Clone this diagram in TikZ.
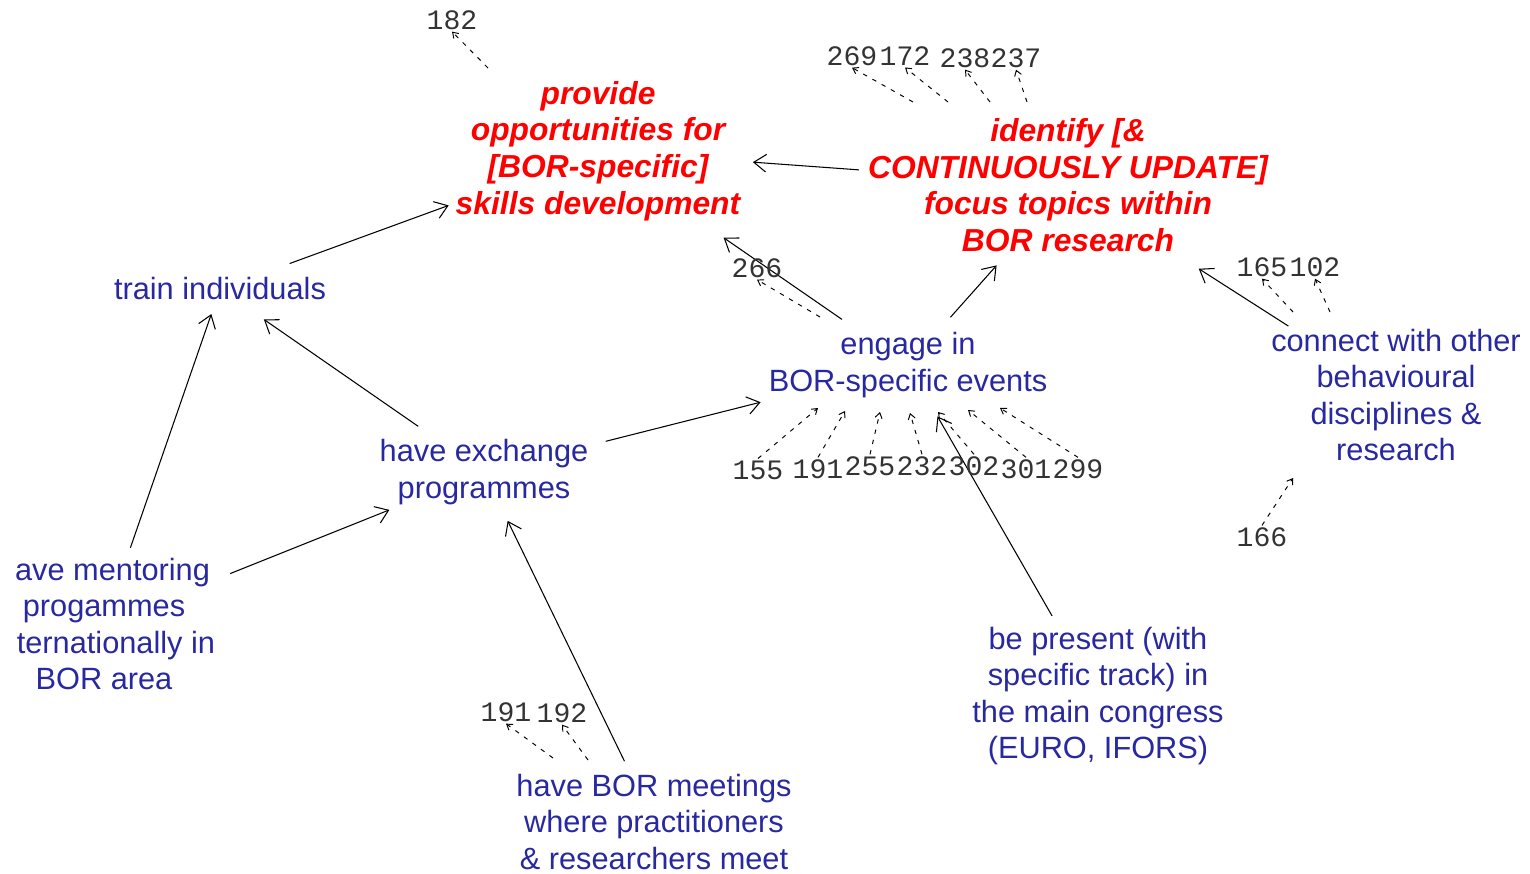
\documentclass[tikz,border=0pt]{standalone}
\usepackage{fontspec}
\setmainfont{Liberation Sans}
\newfontfamily\refnumfont{Liberation Mono}
\usetikzlibrary{arrows.meta}
\definecolor{conceptblue}{RGB}{40,40,160}
\begin{document}
\begin{tikzpicture}[x=0.02cm,y=-0.02cm,
        concept/.style={align=center,text=conceptblue,inner sep=1pt,font=\fontsize{17.5}{20.7}\selectfont},
        goal/.style={align=center,text=red,inner sep=1pt,font=\fontsize{18.1}{20.8}\selectfont\bfseries\itshape},
        refnum/.style={inner sep=1pt,text=black!80,font=\refnumfont\fontsize{16}{16}\selectfont},
        link/.style={-{Straight Barb[length=7pt,width=10pt]},line width=0.6pt},
        reflink/.style={-{Straight Barb[length=3pt,width=4pt]},dash pattern=on 2.5pt off 3.5pt,line width=0.55pt}]
    \useasboundingbox (0,0) rectangle (1530,874);
    \node[goal] (provide) at (598,151) {provide\\opportunities for\\{}[BOR-specific]\\skills development};
    \node[goal] (identify) at (1068,185) {identify [\&\\CONTINUOUSLY UPDATE]\\focus topics within\\BOR research};
    \node[concept] (train) at (220,289) {train individuals};
    \node[concept] (engage) at (908,365) {engage in\\BOR-specific events};
    \node[concept] (connect) at (1396,395) {connect with other\\behavioural\\disciplines \&\\research};
    \node[concept] (exchange) at (484,472) {have exchange\\programmes};
    \begin{scope}
        \clip (15,0) rectangle (1530,874);
        \node[concept] (mentoring) at (104,624) {have mentoring\\progammes\\internationally in\\BOR area};
    \end{scope}
    \node[concept] (meetings) at (654,822) {have BOR meetings\\where practitioners\\\& researchers meet};
    \node[concept] (present) at (1098,696) {be present (with\\specific track) in\\the main congress\\(EURO, IFORS)};

    \draw[link,shorten <=20pt,shorten >=3pt] (train) -- (provide);
    \draw[link,shorten <=4pt,shorten >=6pt] (identify) -- (provide);
    \draw[link,shorten <=11pt,shorten >=15pt] (engage) -- (provide);
    \draw[link,shorten <=10pt,shorten >=9pt] (engage) -- (identify);
    \draw[link,shorten <=1pt,shorten >=16pt] (connect) -- (identify);
    \draw[link,shorten <=11pt,shorten >=17pt] (exchange) -- (train);
    \draw[link,shorten <=5pt,shorten >=7pt] (mentoring) -- (train);
    \draw[link,shorten <=8pt,shorten >=5pt] (mentoring) -- (exchange);
    \draw[link,shorten <=9pt,shorten >=6pt] (exchange) -- (engage);
    \draw[link,shorten <=7pt,shorten >=9pt] (meetings) -- (exchange);
    \draw[link,shorten <=6pt,shorten >=11pt] (present) -- (engage);

    \node[refnum] (r182) at (452,20) {182};
    \node[refnum] (r269) at (852,56) {269};
    \node[refnum] (r172) at (905,56) {172};
    \node[refnum] (r238) at (965,58) {238};
    \node[refnum] (r237) at (1016,58) {237};
    \node[refnum] (r266) at (757,268) {266};
    \node[refnum] (r165) at (1262,267) {165};
    \node[refnum] (r102) at (1315,267) {102};
    \node[refnum] (r166) at (1262,537) {166};
    \node[refnum] (r155) at (758,470) {155};
    \node[refnum] (r191) at (818,469) {191};
    \node[refnum] (r255) at (870,466) {255};
    \node[refnum] (r232) at (922,466) {232};
    \node[refnum] (r302) at (974,466) {302};
    \node[refnum] (r301) at (1026,469) {301};
    \node[refnum] (r299) at (1078,469) {299};
    \node[refnum] (r191m) at (506,712) {191};
    \node[refnum] (r192) at (562,713) {192};

    \coordinate (t182) at (488,68);
    \coordinate (t269) at (913,102);
    \coordinate (t172) at (948,102);
    \coordinate (t238) at (990,102);
    \coordinate (t237) at (1027,102);
    \coordinate (t266) at (820,317);
    \coordinate (t165) at (1293,312);
    \coordinate (t102) at (1330,312);
    \coordinate (t191m) at (553,758);
    \coordinate (t192) at (588,760);
    \coordinate (h155) at (818,408);
    \coordinate (h191) at (845,411);
    \coordinate (h255) at (880,412);
    \coordinate (h232) at (910,413);
    \coordinate (h302) at (938,412);
    \coordinate (h301) at (968,410);
    \coordinate (h299) at (1000,408);
    \coordinate (h166) at (1293,478);

    \foreach \r in {182,269,172,238,237,266,165,102,191m,192}
        \draw[reflink] (t\r) -- (r\r.south);
    \foreach \r in {155,191,255,232,302,301,299,166}
        \draw[reflink] (r\r.north) -- (h\r);
\end{tikzpicture}
\end{document}
